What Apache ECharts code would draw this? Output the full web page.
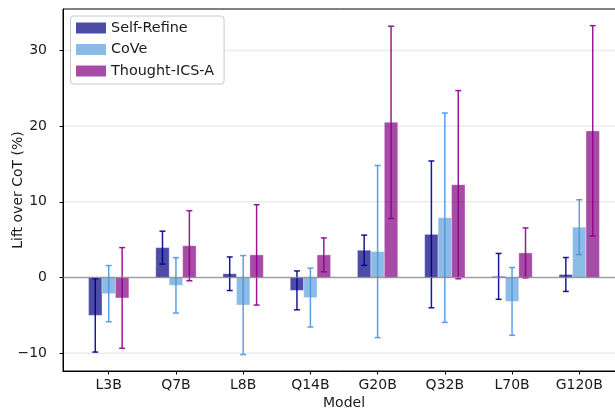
<!DOCTYPE html>
<html>
<head>
<meta charset="utf-8">
<script src="https://cdn.jsdelivr.net/npm/echarts@6/dist/echarts.min.js"></script>
<style>html,body{margin:0;padding:0;background:#fff}#c{width:615px;height:409px}</style>
</head>
<body>
<div id="c"></div>
<script>
const categories = ['L3B','Q7B','L8B','Q14B','G20B','Q32B','L70B','G120B'];
const seriesNames = ['Self-Refine','CoVe','Thought-ICS-A'];
const selfRefine    = [-5.0, 3.95, 0.5, -1.7, 3.6, 5.7, 0.15, 0.4];
const selfRefineErr = [4.85, 2.17, 2.22, 2.57, 2.0, 9.7, 3.03, 2.24];
const cove          = [-2.13, -1.03, -3.64, -2.65, 3.43, 7.9, -3.16, 6.65];
const coveErr       = [3.71, 3.66, 6.54, 3.89, 11.37, 13.83, 4.48, 3.62];
const thought       = [-2.7, 4.2, 2.99, 2.99, 20.5, 12.26, 3.25, 19.37];
const thoughtErr    = [6.65, 4.63, 6.63, 2.24, 12.7, 12.43, 3.3, 13.9];
const yTicks = [-10, 0, 10, 20, 30];
const xTicks = categories.map((c, i) => i);

const FONT = 'DejaVu Sans';
const XMIN = -0.68, XMAX = 7.68, YMIN = -12.35, YMAX = 35.47;
const BW = 0.2;

function barSeries(name, vals, errs, offset, fill, errColor) {
  return {
    type: 'custom', name: name, z: 3, clip: false,
    data: vals.map((v, i) => [i, v, errs[i]]),
    encode: {x: 0, y: 1},
    itemStyle: {color: fill},
    renderItem: function (params, api) {
      const x = api.value(0) + offset, v = api.value(1), e = api.value(2);
      const a = api.coord([x - BW / 2, v]);
      const b = api.coord([x + BW / 2, 0]);
      const top = api.coord([x, v + e]);
      const bot = api.coord([x, v - e]);
      const cap = 3;
      const lw = 1.5;
      return {
        type: 'group',
        children: [
          {type: 'rect', shape: {x: a[0], y: Math.min(a[1], b[1]), width: b[0] - a[0], height: Math.abs(b[1] - a[1])},
           style: {fill: fill, stroke: 'rgba(255,255,255,0.35)', lineWidth: 1}},
          {type: 'line', shape: {x1: top[0], y1: top[1], x2: bot[0], y2: bot[1]}, style: {stroke: errColor, lineWidth: lw}},
          {type: 'line', shape: {x1: top[0] - cap, y1: top[1], x2: top[0] + cap, y2: top[1]}, style: {stroke: errColor, lineWidth: lw}},
          {type: 'line', shape: {x1: bot[0] - cap, y1: bot[1], x2: bot[0] + cap, y2: bot[1]}, style: {stroke: errColor, lineWidth: lw}}
        ]
      };
    }
  };
}

function hLineSeries(values, color, width, z) {
  return {
    type: 'custom', z: z, silent: true, clip: false,
    data: values.map(v => [0, v]),
    encode: {x: 0, y: 1},
    renderItem: function (params, api) {
      const y = api.value(1);
      const p1 = api.coord([XMIN, y]), p2 = api.coord([XMAX, y]);
      return {type: 'line', shape: {x1: p1[0], y1: p1[1], x2: p2[0], y2: p2[1]}, style: {stroke: color, lineWidth: width}};
    }
  };
}

const chart = echarts.init(document.getElementById('c'), null, {renderer: 'canvas'});
chart.setOption({
  animation: false,
  backgroundColor: '#fff',
  textStyle: {fontFamily: FONT},
  grid: {left: 63, top: 9, right: -10, bottom: 38, show: true, borderColor: '#000', borderWidth: 1,
         backgroundColor: 'transparent', containLabel: false, outerBoundsMode: 'none'},
  legend: {
    left: 70.5, top: 16, orient: 'vertical',
    data: seriesNames.map(n => ({name: n, icon: 'rect'})),
    itemWidth: 30, itemHeight: 11, itemGap: 5.5,
    padding: [4, 10, 5, 5.5],
    backgroundColor: 'rgba(255,255,255,0.85)', borderColor: '#c8c8c8', borderWidth: 1, borderRadius: 3,
    textStyle: {fontFamily: FONT, fontSize: 14.4, color: '#1a1a1a', lineHeight: 16}
  },
  xAxis: {
    type: 'value', min: XMIN, max: XMAX,
    name: 'Model', nameLocation: 'middle', nameGap: 25, nameMoveOverlap: false,
    nameTextStyle: {fontFamily: FONT, fontSize: 14, color: '#1a1a1a'},
    axisLine: {show: true, onZero: false, lineStyle: {color: '#000', width: 1}},
    axisTick: {show: true, customValues: xTicks, length: 3.5, lineStyle: {color: '#000', width: 1}},
    axisLabel: {customValues: xTicks, margin: 7, fontFamily: FONT, fontSize: 14, color: '#1a1a1a',
      formatter: v => categories[Math.round(v)] || ''},
    splitLine: {show: false}
  },
  yAxis: {
    type: 'value', min: YMIN, max: YMAX,
    name: 'Lift over CoT (%)', nameLocation: 'middle', nameGap: 38, nameRotate: 90, nameMoveOverlap: false,
    nameTextStyle: {fontFamily: FONT, fontSize: 14, color: '#1a1a1a'},
    axisLine: {show: true, onZero: false, lineStyle: {color: '#000', width: 1}},
    axisTick: {show: true, customValues: yTicks, length: 3.5, lineStyle: {color: '#000', width: 1}},
    axisLabel: {customValues: yTicks, margin: 16, fontFamily: FONT, fontSize: 14, color: '#1a1a1a',
      formatter: v => (v < 0 ? '\u2212' + Math.abs(v) : String(v))},
    splitLine: {show: false}
  },
  series: [
    hLineSeries(yTicks.filter(v => v !== 0), '#ebebeb', 1.5, 0),
    barSeries('Self-Refine', selfRefine, selfRefineErr, -BW, 'rgba(0,0,128,0.7)', 'rgba(0,0,140,0.9)'),
    barSeries('CoVe', cove, coveErr, 0, 'rgba(91,160,220,0.7)', 'rgba(74,150,224,0.9)'),
    barSeries('Thought-ICS-A', thought, thoughtErr, BW, 'rgba(128,0,128,0.7)', 'rgba(140,0,140,0.9)'),
    hLineSeries([0], 'rgba(128,128,128,0.75)', 1.5, 10)
  ]
});
</script>
</body>
</html>
